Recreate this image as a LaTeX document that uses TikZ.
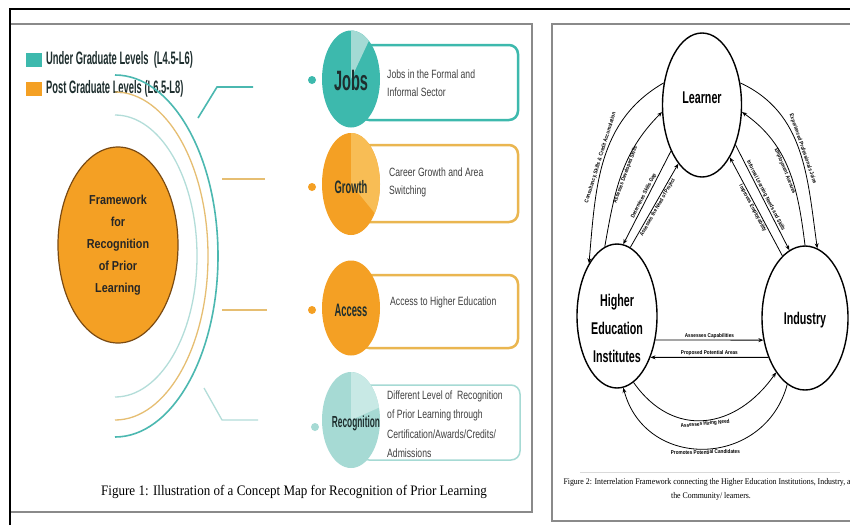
\documentclass[tikz,border=0pt]{standalone}
\usepackage{fontspec}
\setmainfont{Liberation Sans}
\newfontfamily\nbf[FakeStretch=0.52]{Liberation Sans}
\newfontfamily\nrg[FakeStretch=0.72]{Liberation Sans}
\newfontfamily\fwf[FakeStretch=0.83]{Liberation Sans}
\newfontfamily\rlf[FakeStretch=0.63]{Liberation Sans}
\newfontfamily\smf[FakeStretch=0.85]{Liberation Sans}
\newfontfamily\capf[FakeStretch=0.9]{Liberation Serif}
\newcommand\lbf{\smf\bfseries\fontsize{5.5}{6}\selectfont}
\usetikzlibrary{shapes.geometric,arrows.meta}
\definecolor{tealA}{HTML}{3DB9AD}
\definecolor{tealB}{HTML}{A3DAD4}
\definecolor{tealarc}{HTML}{4BB8B0}
\definecolor{ltealarc}{HTML}{B3DDD9}
\definecolor{orng}{HTML}{F4A024}
\definecolor{lorng}{HTML}{F8BD55}
\definecolor{tanc}{HTML}{E6BE72}
\definecolor{boxor}{HTML}{EAB650}
\definecolor{recA}{HTML}{A6DAD4}
\definecolor{recB}{HTML}{C8E9E5}
\definecolor{txtc}{HTML}{404040}
\definecolor{dtxt}{HTML}{1E2E2E}
\definecolor{fwline}{HTML}{7A4A12}
\definecolor{pgray}{HTML}{8A8A8A}
\begin{document}
\begin{tikzpicture}[x=1pt,y=1pt,
  circ/.style={ellipse, inner sep=0pt, minimum width=58},
  ctext/.style={font=\nbf\bfseries\fontsize{18}{20}\selectfont, text=dtxt, inner sep=0pt},
  btext/.style={anchor=west, align=left, font=\nrg\fontsize{12}{18}\selectfont, text=txtc, inner sep=0pt},
  ent/.style={ellipse, draw=black, line width=1.4pt, minimum width=#1, minimum height=144, inner sep=0pt},
  etext/.style={align=center, font=\rlf\bfseries\fontsize{17}{28}\selectfont, inner sep=0pt},
  arr/.style={draw=black, line width=0.8pt, -{Stealth[length=5pt,width=4pt]}},
  lab/.style={font=\lbf, inner sep=1pt, sloped}
]
\useasboundingbox (0,0) rectangle (850,-525);
\fill[white] (0,0) rectangle (850,-525);

% frames
\draw[pgray, line width=1.6pt] (10,-24) -- (532,-24) -- (532,-512) -- (10,-512);
\draw[pgray, line width=1.6pt] (860,-24) -- (552,-24) -- (552,-521) -- (860,-521);
\draw[black, line width=2pt] (10,-525) -- (10,-9) -- (850,-9);

% ---------------- left panel ----------------
\fill[tealA] (26,-53) rectangle (42,-67);
\fill[orng] (26,-82) rectangle (42,-96);
\node[anchor=west, font=\nbf\bfseries\fontsize{18}{20}\selectfont, text=dtxt, inner sep=0pt] (lg1) at (46,-60) {Under Graduate Levels\ \ (L4.5-L6)};
\node[anchor=west, font=\nbf\bfseries\fontsize{18}{20}\selectfont, text=dtxt, inner sep=0pt] (lg2) at (46,-89) {Post Graduate Levels (L6.5-L8)};

% arcs
\draw[ltealarc, line width=1.3pt] (115,-115) arc[start angle=90, end angle=-90, x radius=82, y radius=141];
\draw[tanc, line width=1.3pt] (115,-92) arc[start angle=90, end angle=-90, x radius=93, y radius=164];
\draw[tealarc, line width=1.6pt] (115,-75) arc[start angle=90, end angle=-90, x radius=103, y radius=181];

% connectors
\draw[tealarc, line width=1.6pt] (198,-118) -- (217,-87) -- (253,-87);
\draw[tanc, line width=1.8pt] (222,-179) -- (265,-179);
\draw[tanc, line width=1.8pt] (222,-310) -- (267,-310);
\draw[ltealarc, line width=1.3pt] (204,-388) -- (222,-420) -- (258,-420);

% framework
\node[ellipse, draw=fwline, line width=1.2pt, fill=orng, minimum width=120, minimum height=196, inner sep=0pt] (fw) at (118,-245) {};
\node[align=center, font=\fwf\bfseries\fontsize{13}{22}\selectfont, text=black!85, inner sep=0pt] (fwt) at (118,-245) {Framework\\for\\Recognition\\of Prior\\Learning};

% dots
\fill[tealA] (312,-80) circle (4);
\fill[orng] (312,-187) circle (4);
\fill[orng] (312,-310) circle (4);
\fill[recA] (315,-427) circle (4);

% boxes
\draw[tealA, line width=2.5pt, rounded corners=9pt, fill=white] (360,-45) rectangle (518,-120);
\draw[boxor, line width=2.5pt, rounded corners=9pt, fill=white] (360,-145) rectangle (518,-222);
\draw[boxor, line width=2.5pt, rounded corners=9pt, fill=white] (360,-275) rectangle (518,-348);
\draw[recA, line width=1.5pt, rounded corners=9pt, fill=white] (360,-385) rectangle (520,-460);

% circles
\node[circ, fill=tealA, minimum height=97] (jobsC) at (351,-79) {};
\fill[tealB] (351,-79) -- (351,-30.5) arc[start angle=90, end angle=52, x radius=29, y radius=48.5] -- cycle;
\node[ctext, font=\nbf\bfseries\fontsize{28}{30}\selectfont] (jobsT) at (351,-80) {Jobs};

\node[circ, fill=orng, minimum height=102] (growC) at (351,-184) {};
\fill[lorng] (351,-184) -- (351,-133) arc[start angle=90, end angle=-35, x radius=29, y radius=51] -- cycle;
\node[ctext] (growT) at (351,-187) {Growth};

\node[circ, fill=orng, minimum height=95] (accC) at (351,-308) {};
\node[ctext] (accT) at (351,-310) {Access};

\node[circ, fill=recA, minimum height=96] (recC) at (351,-420) {};
\fill[recB] (351,-420) -- (351,-372) arc[start angle=90, end angle=15, x radius=29, y radius=48] -- cycle;
\node[ctext, font=\nbf\bfseries\fontsize{16}{18}\selectfont] (recT) at (356,-423) {Recognition};

% box texts
\node[btext] (jobsB) at (387,-83.5) {Jobs in the Formal and\\Informal Sector};
\node[btext] (growB) at (389,-182.5) {Career Growth and Area\\Switching};
\node[btext] (accB) at (390,-302) {Access to Higher Education};
\node[btext, font=\nrg\fontsize{12}{19.5}\selectfont] (recB) at (387,-424) {Different Level of\ \ Recognition\\of Prior Learning through\\Certification/Awards/Credits/\\Admissions};

% caption
\node[font=\capf\fontsize{14.5}{16}\selectfont, inner sep=0pt] (cap1) at (294,-492) {Figure 1: Illustration of a Concept Map for Recognition of Prior Learning};

% ---------------- right panel ----------------
\node[ent=79] (L) at (702,-105) {};
\node[ent=80] (H) at (617,-316) {};
\node[ent=86] (I) at (805,-318) {};
\node[etext] (Lt) at (702,-98) {Learner};
\node[etext] (Ht) at (617,-328) {Higher\\Education\\Institutes};
\node[etext] (It) at (805,-320) {Industry};

% left arcs
\draw[arr] (L.150) to[out=210,in=85] (H.118);
\path (H.118) to[out=85,in=210] node[lab, above, pos=0.5] (l1) {Consultancy, Skills \& Credit Accumulation} (L.150);
\draw[arr] (H.100) to[out=80,in=225] (L.190);
\path (H.100) to[out=80,in=225] node[lab, below, pos=0.5] (l2) {Assesses Developed Skills} (L.190);
\draw[arr] (L.236) -- (H.85);
\path (H.85) -- node[lab, above, pos=0.5] (l3) {Determines Skills Gap} (L.236);
\draw[arr] (H.79) -- (L.248);
\path (H.79) -- node[lab, below, pos=0.5] (l4) {Assesses the Need of Project} (L.248);

% right arcs
\draw[arr] (L.30) to[out=-25,in=98] (I.80);
\path (L.30) to[out=-25,in=98] node[lab, above, pos=0.5] (r1) {Experienced Professionals Joins} (I.80);
\draw[arr] (I.90) to[out=97,in=-35] (L.-10);
\path (L.-10) to[out=-35,in=97] node[lab, below, pos=0.5] (r2) {Employment Avenues} (I.90);
\draw[arr] (L.-50) -- (I.103);
\path (L.-50) -- node[lab, above, pos=0.5] (r3) {Informal Learning Needs and Skills} (I.103);
\draw[arr] (I.110) -- (L.-62);
\path (L.-62) -- node[lab, below, pos=0.5] (r4) {Improves Employability} (I.110);

% middle arrows
\draw[arr] (H.-32.5) -- node[above, font=\lbf, inner sep=1pt] (ac) {Assesses Capabilities} (I.208.3);
\draw[arr] (I.227.1) -- node[above, font=\lbf, inner sep=1pt] (pp) {Proposed Potential Areas} (H.-51.3);

% bottom arcs
\draw[arr] (H.-76) to[out=-55,in=-125,looseness=1.25] (I.242);
\path (H.-76) to[out=-55,in=-125,looseness=1.25] node[lab, below, pos=0.5] (b1) {Assesses Hiring Need} (I.242);
\draw[arr] (I.255) to[out=-105,in=-75,looseness=1.35] (H.-85);
\path (H.-85) to[out=-75,in=-105,looseness=1.35] node[lab, below, pos=0.5] (b2) {Promotes Potential Candidates} (I.255);

% caption 2
\draw[black!15, line width=0.6pt] (580,-472) -- (840,-472);
\node[align=center, font=\capf\fontsize{8.7}{14}\selectfont, inner sep=0pt] (cap2) at (711,-489) {Figure 2: Interrelation Framework connecting the Higher Education Institutions, Industry, and\\the Community/ learners.};
\end{tikzpicture}
\end{document}
